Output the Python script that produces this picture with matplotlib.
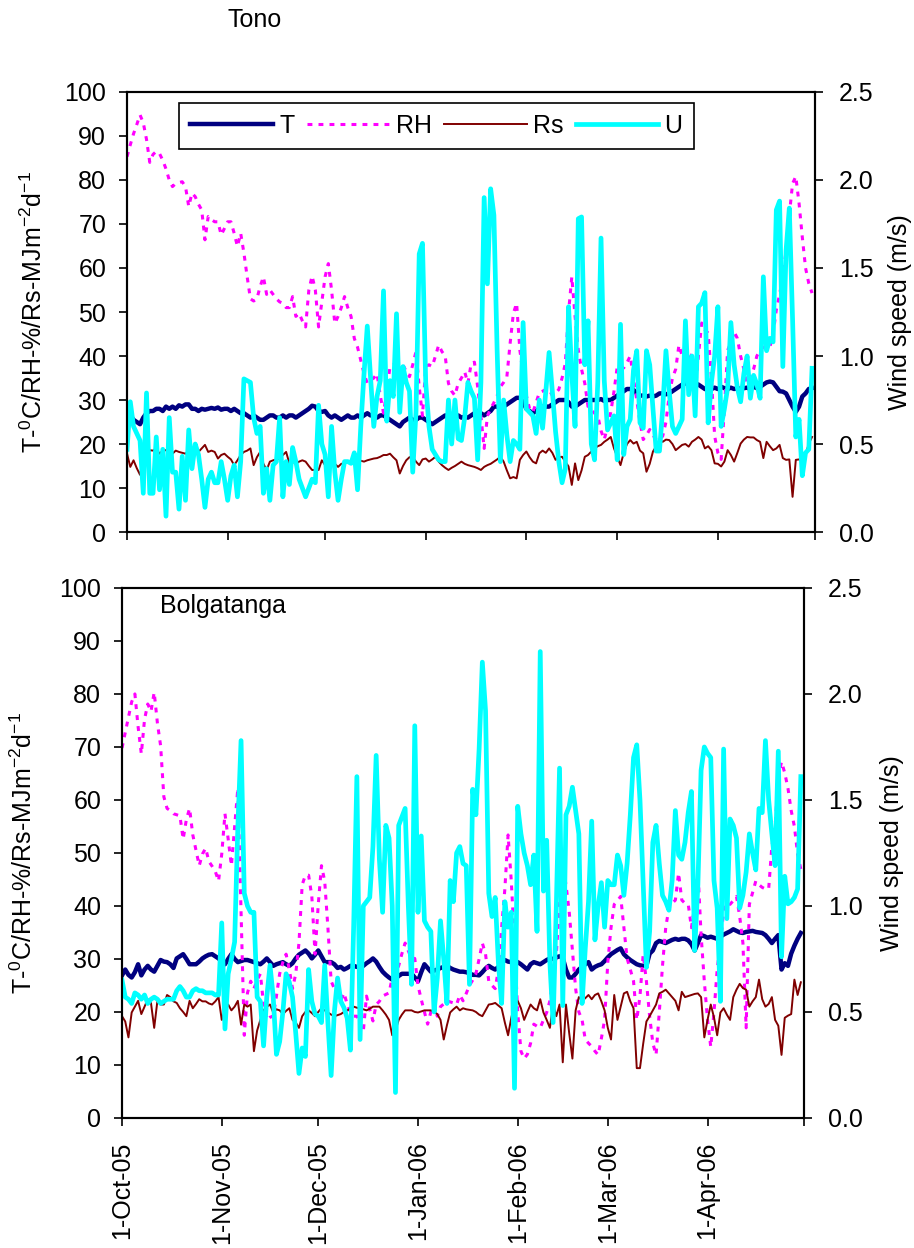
import matplotlib
matplotlib.use("Agg")
import matplotlib.pyplot as plt
from matplotlib.ticker import FormatStrFormatter
import numpy as np
import pandas as pd

plt.rcParams['font.family'] = ['Liberation Sans', 'DejaVu Sans']
plt.rcParams['mathtext.fontset'] = 'custom'
plt.rcParams['mathtext.rm'] = 'Liberation Sans'
plt.rcParams['mathtext.default'] = 'regular'
plt.rcParams['font.size'] = 18

# daily series, 1 Oct 2005 .. 30 Apr 2006
days = pd.date_range('2005-10-01', '2006-04-30', freq='D')
month_starts = pd.date_range('2005-10-01', '2006-05-01', freq='MS')
month_labels = ['1-Oct-05', '1-Nov-05', '1-Dec-05', '1-Jan-06',
                '1-Feb-06', '1-Mar-06', '1-Apr-06', '']

# --- Tono ---
tono_T = [
    26, 26.5, 25.5, 25, 24.5, 26, 27, 27.5, 27.5, 28,
    28, 27.5, 28.5, 28, 28.5, 28, 28.8, 28.5, 29, 29,
    28, 28, 27.5, 28, 27.8, 28, 28.2, 28, 28.3, 27.8,
    28, 28, 27.5, 28, 27.5, 27, 27, 26.5, 26, 26.5,
    26, 25.5, 25.5, 26, 26.5, 26.5, 26, 26, 26.5, 26,
    26.5, 26.5, 26, 26.5, 27, 27.5, 28, 28.7, 28.5, 27.5,
    27.3, 27.5, 26.5, 26, 26.5, 26, 25.5, 26, 26.5, 26,
    26, 26.5, 26, 26.5, 27, 26.5, 26.5, 26, 26.5, 26.5,
    26, 25.5, 25, 24.5, 24, 25, 25.5, 26, 25.5, 25.5,
    26, 26, 25.5, 25, 24.5, 25, 25.5, 26, 26.5, 26,
    26.5, 26, 26.5, 26, 26.2, 26, 26.5, 27, 27.5, 27,
    26.5, 27, 27.5, 28.5, 28.5, 28, 28.5, 29, 29.5, 30,
    30.5, 30.5, 29.5, 28, 27.5, 27, 27.5, 28, 28.5, 28.5,
    28.5, 29, 29.5, 30, 30, 30, 29.5, 28.5, 28.5, 29,
    29.5, 30, 30, 30, 30, 30, 30.2, 29.8, 30, 30,
    30.5, 31, 31.5, 32, 32.5, 32.5, 32.3, 31.5, 31, 31,
    30.8, 31, 30.8, 31, 31.5, 31.5, 31.3, 31.5, 32, 32.5,
    33, 33.5, 33.8, 33.5, 33.2, 33.8, 33.5, 33, 32.5, 32.3,
    32.5, 32.8, 32.5, 33, 32.7, 32.5, 32.8, 32.5, 32.7, 32.5,
    32.7, 32.8, 32.5, 33, 32.7, 33, 33.5, 34, 34.2, 34,
    33, 32, 31.9, 31.5, 30, 28.5, 27.3, 28.5, 30.8, 31.5,
    32.5, 32.7,
]
tono_RH = [
    85.3, 88, 90.5, 92.6, 94.8, 93, 89.2, 84, 85.8, 86.5,
    86, 84.5, 82.5, 80, 78.5, 79.2, 79.4, 79.6, 78.5, 74,
    77, 76.2, 74.5, 73.2, 66.4, 71.7, 71, 70.5, 70.5, 67.5,
    69, 70.5, 70.5, 67.9, 64.9, 67.9, 63.4, 58, 53, 52.5,
    53, 55.8, 58, 54, 55, 54, 53, 52.3, 52, 51,
    51, 53.5, 49, 49.7, 48, 46.6, 55, 58.2, 55, 46.6,
    52.3, 58, 61, 55, 47.4, 49, 51, 53.5, 51, 49,
    44, 42, 39, 36, 33.8, 34.5, 35, 36, 31, 27,
    32, 37.6, 38, 38.3, 38.3, 38, 36.5, 35.3, 38, 41,
    33, 26.4, 37.6, 38, 37.6, 40, 42.5, 41, 40, 33.8,
    32, 31, 33.8, 35, 36.4, 33.8, 38.3, 38.6, 33, 26.4,
    19, 26.4, 28, 29.4, 31, 33, 34, 35.3, 42.9, 49.7,
    52, 41.3, 36, 31, 28, 27.2, 29.4, 31.7, 32, 32.4,
    32.4, 31, 31.5, 32.4, 35, 38.3, 50, 58, 49, 41.3,
    37, 33.8, 28.5, 27.9, 27, 26.4, 23, 21, 24, 27.2,
    32, 37.6, 37, 37.3, 38.5, 40, 35, 30, 25, 21,
    22, 23.3, 22, 21, 21, 21.8, 25, 31, 35, 37,
    42.5, 40, 38.3, 39, 40.5, 31.7, 40, 47.5, 46, 45.2,
    35, 21.8, 18, 16.5, 28, 41.3, 43, 45.5, 44, 40,
    37, 33.8, 35, 37, 40, 41.3, 42, 42, 42, 45,
    50.5, 54, 58, 64, 72, 79.2, 80.8, 74.7, 67, 60,
    56.5, 54.3,
]
tono_Rs = [
    17.8, 14.8, 16.3, 14.5, 13, 16.3, 17, 18.6, 18.5, 19,
    17.8, 18.5, 18.6, 18, 17.8, 18.5, 18.2, 18, 17.8, 18.5,
    18.6, 18, 18.2, 19, 19.8, 18.2, 18.5, 18.2, 16.7, 17.5,
    17.8, 17.1, 16.5, 15.2, 16.3, 17.5, 18.2, 18.5, 19, 15.2,
    17, 18.2, 15.5, 14.1, 16, 16.3, 16.5, 16.7, 17.5, 18.2,
    15.6, 16, 15.5, 16, 16.3, 16, 15, 14.1, 14.1, 14.1,
    16.3, 15.2, 15.5, 16.3, 15.5, 14.8, 15.5, 15.6, 16, 16,
    15.8, 16, 16.2, 16, 16.3, 16.5, 16.7, 16.8, 17.1, 17.5,
    17.5, 17.8, 17, 16.3, 13.3, 15, 16.3, 17, 17.1, 16,
    15.2, 16.5, 16.7, 16, 16.5, 17.1, 16, 15.2, 14.6, 14.1,
    14.6, 15, 15.5, 16, 15.5, 15.2, 15, 14.8, 14.5, 14.1,
    14.8, 15.2, 15.5, 16, 16.5, 17.1, 16, 14, 12.2, 12.5,
    12.2, 16.4, 17.5, 18.3, 17, 16, 15.6, 17.9, 18.5, 18,
    19, 18, 16.4, 17, 17.1, 16, 14.9, 10.7, 15.6, 11.8,
    14, 17.1, 17.5, 18.3, 19, 19.5, 19.8, 20.5, 21, 21.6,
    19, 17.1, 15.2, 18, 20, 20.9, 20.1, 20.5, 18.5, 17.9,
    13.7, 15.5, 18.3, 19.5, 20.9, 20.5, 21, 20.9, 20, 18.6,
    19.2, 19.8, 20, 19.4, 20.5, 21, 21.6, 21, 19, 19.5,
    18.6, 15.6, 15.5, 14.9, 16, 18.6, 17.5, 16, 18, 20.1,
    21, 21.6, 21.5, 21.5, 20.9, 20.5, 16.8, 20.5, 19.5, 18.6,
    19, 19.8, 16.8, 16.4, 16.5, 8, 16.4, 16.5, 16, 17.5,
    20.1, 21.6,
]
tono_U = [
    0.47, 0.74, 0.6, 0.56, 0.52, 0.22, 0.79, 0.22, 0.22, 0.54,
    0.24, 0.47, 0.09, 0.65, 0.34, 0.34, 0.13, 0.43, 0.18, 0.58,
    0.36, 0.5, 0.44, 0.3, 0.14, 0.3, 0.34, 0.28, 0.28, 0.4,
    0.3, 0.18, 0.32, 0.38, 0.2, 0.4, 0.87, 0.86, 0.85, 0.65,
    0.56, 0.6, 0.22, 0.36, 0.18, 0.38, 0.4, 0.65, 0.2, 0.4,
    0.27, 0.48, 0.4, 0.3, 0.25, 0.2, 0.25, 0.3, 0.28, 0.72,
    0.5, 0.44, 0.2, 0.6, 0.34, 0.18, 0.3, 0.4, 0.4, 0.39,
    0.45, 0.24, 0.6, 0.9, 1.17, 0.88, 0.6, 0.77, 0.86, 1.37,
    0.63, 0.86, 0.77, 1.24, 0.68, 0.94, 0.85, 0.8, 0.34, 0.68,
    1.58, 1.64, 0.85, 0.6, 0.47, 0.44, 0.41, 0.4, 0.4, 0.75,
    0.5, 0.75, 0.53, 0.52, 0.65, 0.85, 0.8, 0.76, 0.41, 0.85,
    1.9, 1.41, 1.95, 1.8, 1.03, 0.4, 0.75, 0.55, 0.4, 0.52,
    0.5, 0.47, 1.19, 0.7, 0.68, 0.66, 0.56, 0.75, 0.59, 0.8,
    1.02, 0.8, 0.57, 0.4, 0.28, 0.36, 1.28, 0.9, 0.6, 1.78,
    1.79, 0.95, 1.2, 0.5, 0.41, 0.85, 1.67, 0.86, 0.58, 0.62,
    0.66, 0.41, 1.18, 0.44, 0.6, 0.64, 0.92, 1.03, 0.62, 0.59,
    1.03, 0.95, 0.7, 0.46, 0.46, 0.7, 1.03, 0.8, 0.6, 0.56,
    0.6, 0.64, 1.2, 0.78, 1.0, 0.66, 1.28, 1.3, 1.36, 0.62,
    0.85, 1.0, 1.28, 0.6, 0.7, 0.82, 1.19, 0.95, 0.82, 0.74,
    0.9, 1.0, 0.76, 0.89, 0.84, 0.76, 1.45, 1.03, 1.1, 1.08,
    1.83, 1.88, 0.94, 1.6, 1.84, 1.21, 0.54, 0.64, 0.32, 0.45,
    0.47, 0.93,
]

# --- Bolgatanga ---
bolga_T = [
    26.9, 28, 27, 26.5, 27.5, 29, 26.9, 28, 28.7, 28,
    27.6, 28.7, 29.8, 29.5, 29.4, 29, 28.3, 30.1, 30.5, 30.9,
    30, 29, 29, 29, 29.5, 30.1, 30.5, 30.8, 30.9, 30.5,
    30.1, 29.5, 29, 30, 30.9, 30, 29.4, 29.6, 29.8, 29.8,
    29.6, 29.4, 29.2, 29, 29.5, 30.1, 29.4, 28.7, 29, 29.2,
    29.4, 29, 28.7, 29.2, 30.1, 30.8, 31.2, 31.6, 31, 30.1,
    30.8, 31.6, 30.5, 29.4, 29.4, 29.4, 29, 28.3, 28.5, 28,
    28.3, 28.7, 28.7, 28.5, 28.7, 28.7, 29.2, 29.6, 30.1, 29.5,
    28.5, 27.6, 27, 26.5, 26.1, 26.3, 26.8, 27.2, 27.2, 27.2,
    27.2, 26.5, 25.8, 27.5, 29, 28.3, 27.6, 27.8, 28, 28.3,
    28.5, 28.7, 28.3, 28, 27.8, 27.6, 27.6, 27.5, 27.3, 27,
    27, 26.9, 27.5, 28.2, 28.7, 28.3, 28, 28.5, 29.3, 29.8,
    29.5, 29.4, 29.6, 29.4, 29, 28.5, 28, 29, 29.4, 29.2,
    29, 29.4, 29.8, 30.1, 30, 30.3, 30.5, 30.2, 28, 26.5,
    26.5, 27.2, 28, 28.5, 29, 29.4, 28, 28.5, 28.8, 29,
    29.6, 30.3, 30.9, 31.3, 31.7, 32, 30.9, 30.3, 29.8, 29.4,
    29, 28.8, 28.7, 28.7, 31, 31.6, 33, 33.4, 33.2, 33,
    33.3, 33.6, 33.8, 33.6, 33.8, 33.8, 33.5, 32.8, 31.6, 33,
    34.5, 34.3, 34, 34.2, 34, 33.8, 34.2, 34.6, 34.9, 35.2,
    35.6, 35.3, 35, 34.9, 35.1, 35.2, 35.3, 35.1, 35, 34.9,
    34.5, 33.8, 33, 33.8, 34.5, 28, 29.2, 28.7, 31, 32.5,
    33.8, 34.9,
]
bolga_RH = [
    69.8, 72.7, 75.6, 78.5, 80, 73.8, 68.7, 75.2, 78.1, 76.7,
    80.3, 74.5, 70.2, 60.6, 58.4, 58, 57.4, 57.2, 57, 52.6,
    56.3, 58.4, 53.4, 50.5, 47.6, 49.8, 50.9, 48.4, 47.5, 46.5,
    44.7, 49.8, 57.4, 52.6, 47.6, 55, 62.2, 38.9, 15.6, 23.6,
    25.8, 24.4, 26, 27.2, 21.4, 18.5, 19, 19.2, 23, 27.2,
    29.4, 30.9, 28, 24.4, 27.2, 33, 44, 45.8, 45.8, 41.8,
    30.9, 40.3, 47.6, 44.7, 35.9, 25.8, 24.4, 23, 22.1, 23.6,
    21.4, 20, 19.2, 19.2, 17.5, 16.3, 23, 20.5, 18.3, 21.4,
    22, 23, 23.3, 23.6, 26.5, 27.5, 28.7, 31, 33, 31.5,
    30.1, 30.1, 25, 22.4, 20, 17.7, 20, 21.4, 19.2, 21,
    21.5, 22.1, 21.9, 21.7, 21.4, 23.2, 22.1, 23.5, 25, 26,
    27.2, 30, 33, 30.9, 25.8, 25, 24.4, 28, 35.9, 43.2,
    53.4, 44.7, 33, 19.9, 12.6, 11.2, 12, 14.1, 17.7, 17.3,
    17, 18.5, 19.9, 22.1, 26, 30.9, 40.3, 47.6, 44, 38.9,
    31.6, 24.4, 20, 18.5, 14.8, 14.1, 13.5, 12.6, 11.9, 15,
    18.5, 29.4, 35.9, 40.3, 41, 41.8, 35.9, 30.1, 28, 25.8,
    18.5, 23, 30.9, 25.8, 19.2, 14.1, 11.9, 19.9, 28.7, 35.9,
    39.6, 40.5, 41.1, 46.2, 41.1, 40.5, 40.3, 35.9, 40, 46.9,
    34.5, 25.8, 18.5, 13.4, 19.9, 28, 33, 38.9, 41.8, 40.3,
    41, 41.8, 38, 33, 17, 40.3, 42.5, 44.7, 44, 43.5,
    43.2, 43.2, 51.3, 55, 64.3, 67.2, 65.1, 62.2, 58, 55,
    49.8, 46.9,
]
bolga_Rs = [
    19.2, 18.2, 15.2, 19.9, 21, 22.1, 19.6, 21, 22.4, 21.7,
    17, 22.1, 21.4, 21.4, 23.2, 22.8, 22, 21.7, 20.7, 20,
    19.2, 22.1, 20.7, 21.5, 22.4, 22, 22, 21.6, 21.4, 22,
    22.8, 18.5, 20.5, 21.4, 20.3, 21, 22.1, 17.6, 21.4, 21,
    21.4, 12.6, 16.5, 18.5, 20.3, 21, 21.4, 19.9, 20.5, 20.3,
    19.6, 20.2, 20.7, 18.5, 18, 17, 19.2, 20, 20.3, 19.8,
    19.2, 20, 20.7, 20.3, 19.9, 19.5, 19.2, 19.4, 19.6, 20,
    20.3, 20.6, 21, 20.8, 20.7, 20.5, 20.3, 20.6, 21, 21,
    21, 20.3, 19.5, 18.5, 15.6, 16.5, 18.5, 19.5, 20.3, 20.3,
    20.3, 20, 19.9, 20.1, 20.3, 20.3, 20.3, 20, 19.6, 18.5,
    14.8, 17.5, 19.9, 20.5, 21, 20.3, 20.7, 20.5, 20.4, 20.3,
    20, 19.5, 19.2, 20.3, 21.4, 21.5, 21.7, 21.2, 20.7, 18,
    15.6, 18.9, 21.4, 22.1, 20.7, 18.5, 20, 21.4, 20.7, 20.3,
    22.4, 19.9, 18.5, 17, 21.4, 19.2, 21.4, 10.5, 21.4, 16,
    11.2, 20.3, 22.8, 22.1, 22.6, 23.2, 22.4, 23.2, 23.5, 22,
    20.3, 17, 14.8, 23.2, 18.5, 21, 23.5, 23.8, 22, 20.7,
    9.4, 9.4, 14, 18.2, 19.2, 20.3, 21.4, 23.5, 23.8, 24.2,
    23.5, 22.8, 22.1, 20.3, 23.8, 22.8, 23, 23.2, 23.4, 23.5,
    22.8, 15.2, 18.5, 21.4, 19, 15.6, 19.9, 20.7, 19.5, 18.5,
    22.8, 24.2, 25.3, 24.5, 24.2, 21, 22, 22.8, 26.1, 22.4,
    21, 21.5, 22.8, 18.5, 17.4, 11.9, 18.9, 19.3, 19.6, 26.1,
    23.2, 25.6,
]
bolga_U = [
    0.65, 0.57, 0.56, 0.54, 0.59, 0.58, 0.56, 0.58, 0.54, 0.56,
    0.57, 0.56, 0.54, 0.55, 0.56, 0.56, 0.56, 0.6, 0.62, 0.6,
    0.57, 0.57, 0.6, 0.61, 0.6, 0.6, 0.59, 0.59, 0.59, 0.58,
    0.58, 0.92, 0.42, 0.68, 0.75, 0.83, 1.37, 1.78, 1.06, 1.0,
    0.97, 0.97, 0.57, 0.55, 0.34, 0.57, 0.72, 0.57, 0.3, 0.36,
    0.5, 0.68, 0.64, 0.57, 0.4, 0.21, 0.33, 0.29, 0.7, 0.55,
    0.49, 0.48, 0.45, 0.72, 0.45, 0.2, 0.5, 0.66, 0.55, 0.52,
    0.47, 0.32, 0.9, 1.61, 0.37, 1.0, 1.02, 1.04, 1.28, 1.71,
    1.22, 0.97, 1.38, 1.32, 1.0, 0.12, 1.38, 1.42, 1.46, 1.0,
    0.63, 1.85, 0.97, 1.33, 0.93, 0.9, 0.88, 0.5, 0.66, 0.93,
    0.75, 0.54, 1.12, 1.02, 1.25, 1.28, 1.2, 1.19, 0.63, 1.55,
    1.43, 1.74, 2.15, 1.92, 1.06, 0.95, 1.04, 0.73, 0.54, 1.02,
    0.9, 0.97, 0.14, 1.47, 1.34, 1.25, 1.19, 1.1, 1.24, 0.88,
    2.2, 1.07, 1.31, 0.73, 0.45, 1.0, 1.65, 0.53, 1.43, 1.47,
    1.56, 1.45, 1.34, 0.54, 0.8, 1.02, 1.4, 0.84, 1.0, 1.11,
    0.9, 1.12, 1.1, 1.1, 1.24, 1.19, 1.05, 1.2, 1.43, 1.7,
    1.76, 1.5, 1.1, 0.71, 0.88, 1.3, 1.38, 1.2, 1.05, 1.02,
    0.98, 1.12, 1.45, 1.24, 1.22, 1.3, 1.44, 1.54, 0.79, 1.1,
    1.64, 1.75, 1.72, 1.7, 1.12, 0.99, 0.55, 1.74, 0.94, 1.41,
    1.38, 1.32, 0.99, 1.05, 1.16, 1.34, 1.25, 1.17, 1.46, 1.44,
    1.78, 1.5, 1.34, 1.19, 1.73, 0.76, 1.14, 1.01, 1.02, 1.04,
    1.08, 1.61,
]

Y_LABEL = r'T-$^{0}$C/RH-%/Rs-MJm$^{-2}$d$^{-1}$'


def draw_panel(ax, T, RH, Rs, U, show_dates):
    ax.plot(days[:len(T)], T, color='#000080', lw=3.2, label='T')
    ax.plot(days[:len(RH)], RH, color='#ff00ff', lw=2.2, ls=(0, (1.6, 2.0)), label='RH')
    ax.plot(days[:len(Rs)], Rs, color='#800000', lw=1.4, label='Rs')
    ax.set_ylim(0, 100)
    ax.set_yticks(range(0, 101, 10))
    ax.set_xlim(month_starts[0], month_starts[-1])
    ax.set_xticks(month_starts)
    if show_dates:
        ax.set_xticklabels(month_labels, rotation=90, ha='center', va='top')
    else:
        ax.set_xticklabels([])
    ax.tick_params(axis='y', direction='out', length=6, width=1.2, pad=9)
    ax.tick_params(axis='x', direction='out', length=6, width=1.2, pad=11)

    ax2 = ax.twinx()
    ax2.plot(days[:len(U)], U, color='#00ffff', lw=3.4, label='U')
    ax2.set_ylim(0, 2.5)
    ax2.set_yticks(np.arange(0, 2.51, 0.5))
    ax2.yaxis.set_major_formatter(FormatStrFormatter('%.1f'))
    ax2.tick_params(direction='out', length=6, width=1.2, pad=11)
    ax2.set_xlim(month_starts[0], month_starts[-1])

    for a in (ax, ax2):
        for sp in a.spines.values():
            sp.set_linewidth(1.5)
            sp.set_color('black')

    ax.set_ylabel(Y_LABEL)
    ax2.set_ylabel('Wind speed (m/s)')
    return ax2


fig = plt.figure(figsize=(9.14, 12.48), dpi=100)
ax_top = fig.add_axes([0.139, 0.5737, 0.753, 0.3526])
ax_bot = fig.add_axes([0.1335, 0.1042, 0.7462, 0.4247])

ax_top2 = draw_panel(ax_top, tono_T, tono_RH, tono_Rs, tono_U, False)
ax_bot2 = draw_panel(ax_bot, bolga_T, bolga_RH, bolga_Rs, bolga_U, True)

ax_top.yaxis.set_label_coords(-0.116, 0.5)
ax_top2.yaxis.set_label_coords(1.105, 0.5)
ax_bot.yaxis.set_label_coords(-0.125, 0.5)
ax_bot2.yaxis.set_label_coords(1.111, 0.5)

handles = ax_top.get_lines() + ax_top2.get_lines()
leg = ax_top2.legend(handles, [h.get_label() for h in handles], ncol=4,
                     loc='upper left', bbox_to_anchor=(0.0756, 0.975),
                     borderaxespad=0, frameon=True, fancybox=False,
                     edgecolor='black', framealpha=1, handlelength=3.3,
                     handletextpad=0.25, columnspacing=0.5, borderpad=0.45)
leg.get_frame().set_linewidth(1.2)

fig.text(227 / 914, 1 - 20 / 1248, 'Tono', ha='left', va='center')
fig.text(160 / 914, 1 - 606 / 1248, 'Bolgatanga', ha='left', va='center')

fig.savefig('out.png', dpi=100)
